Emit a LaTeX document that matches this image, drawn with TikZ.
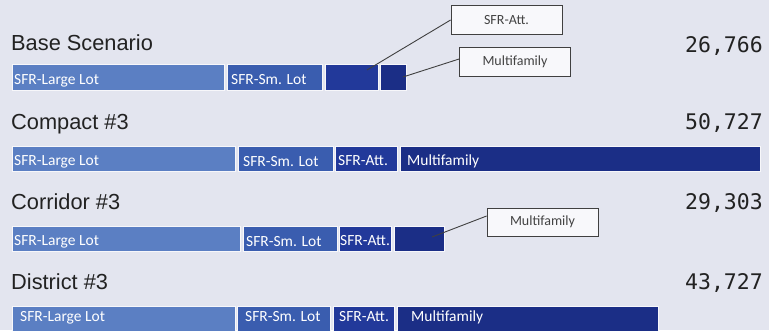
\documentclass[tikz,border=0pt]{standalone}
\usepackage{fontspec}
\setmainfont{Liberation Sans}
\newfontfamily\lblfont{Carlito}
\newfontfamily\numfont{DejaVu Sans Mono}
\definecolor{bg}{HTML}{E3E5EF}
\definecolor{cLarge}{HTML}{5B7FC3}
\definecolor{cSmall}{HTML}{3A5DAF}
\definecolor{cAtt}{HTML}{22399A}
\definecolor{cMulti}{HTML}{1B2E86}
\definecolor{ink}{HTML}{222222}
\definecolor{lineC}{HTML}{404040}
\tikzset{
  seg/.style={anchor=north west, inner sep=0pt, outer sep=0pt, minimum height=25, draw=white!70!bg, line width=0.8pt},
  title/.style={anchor=base west, inner sep=0pt, text=ink, font=\fontsize{21.8}{24}\selectfont},
  total/.style={anchor=base east, inner sep=0pt, text=ink, font=\numfont\fontsize{21.5}{24}\selectfont},
  lbl/.style={anchor=base west, inner sep=0pt, text=white, font=\lblfont\fontsize{15.5}{18}\selectfont},
  callout/.style={draw=lineC, line width=0.8pt, fill=white!75!bg, inner sep=0pt, minimum width=111, minimum height=29, text=ink!85, font=\lblfont\fontsize{14}{16}\selectfont},
  conn/.style={draw=lineC, line width=0.9pt}
}
\begin{document}
\begin{tikzpicture}[x=1pt,y=-1pt]
\useasboundingbox[fill=bg] (0,0) rectangle (769,330);
% Base Scenario
\node[title] (t1) at (11,50) {Base Scenario};
\node[total] (n1) at (763,52) {26,766};
\node[seg, fill=cLarge, minimum width=212, minimum height=26] (b1a) at (12,64) {};
\node[seg, fill=cSmall, minimum width=95, minimum height=26] (b1b) at (227,64) {};
\node[seg, fill=cAtt, minimum width=53, minimum height=26] (b1c) at (325,64) {};
\node[seg, fill=cMulti, minimum width=26, minimum height=26] (b1d) at (380,64) {};
\node[lbl] (l1a) at (14,84) {SFR-Large Lot};
\node[lbl] (l1b) at (231,84) {SFR-Sm. Lot};
\node[callout] (c1) at (506.5,20) {SFR-Att.};
\node[callout] (c2) at (515,62) {Multifamily};
\coordinate (p1) at (367,70);
\coordinate (p2) at (403,77);
\draw[conn] (p1) -- (c1.west);
\draw[conn] (p2) -- ([yshift=3]c2.west);
% Compact #3
\node[title] (t2) at (11,129) {Compact \#3};
\node[total] (n2) at (763,129) {50,727};
\node[seg, fill=cLarge, minimum width=223] (b2a) at (12,146) {};
\node[seg, fill=cSmall, minimum width=95] (b2b) at (238,146) {};
\node[seg, fill=cAtt, minimum width=62] (b2c) at (335,146) {};
\node[seg, fill=cMulti, minimum width=360] (b2d) at (400,146) {};
\node[lbl] (l2a) at (14,165) {SFR-Large Lot};
\node[lbl] (l2b) at (243,166) {SFR-Sm. Lot};
\node[lbl] (l2c) at (338,165) {SFR-Att.};
\node[lbl] (l2d) at (407,165) {Multifamily};
% Corridor #3
\node[title] (t3) at (11,209) {Corridor \#3};
\node[total] (n3) at (763,209) {29,303};
\node[seg, fill=cLarge, minimum width=228] (b3a) at (12,226) {};
\node[seg, fill=cSmall, minimum width=94] (b3b) at (243,226) {};
\node[seg, fill=cAtt, minimum width=52] (b3c) at (339,226) {};
\node[seg, fill=cMulti, minimum width=50] (b3d) at (394,226) {};
\node[lbl] (l3a) at (14,245) {SFR-Large Lot};
\node[lbl] (l3b) at (246,246) {SFR-Sm. Lot};
\node[lbl] (l3c) at (340,245) {SFR-Att.};
\node[callout, minimum height=28] (c3) at (542.5,222) {Multifamily};
\coordinate (p3) at (432,237);
\draw[conn] (p3) -- ([yshift=6]c3.west);
% District #3
\node[title] (t4) at (11,289) {District \#3};
\node[total] (n4) at (763,289) {43,727};
\node[seg, fill=cLarge, minimum width=223, minimum height=30] (b4a) at (12,306) {};
\node[seg, fill=cSmall, minimum width=93, minimum height=30] (b4b) at (237,306) {};
\node[seg, fill=cAtt, minimum width=61, minimum height=30] (b4c) at (333,306) {};
\node[seg, fill=cMulti, minimum width=261, minimum height=30] (b4d) at (397,306) {};
\node[lbl] (l4a) at (20,321) {SFR-Large Lot};
\node[lbl] (l4b) at (245,321) {SFR-Sm. Lot};
\node[lbl] (l4c) at (339,321) {SFR-Att.};
\node[lbl] (l4d) at (411,321) {Multifamily};
\end{tikzpicture}
\end{document}
